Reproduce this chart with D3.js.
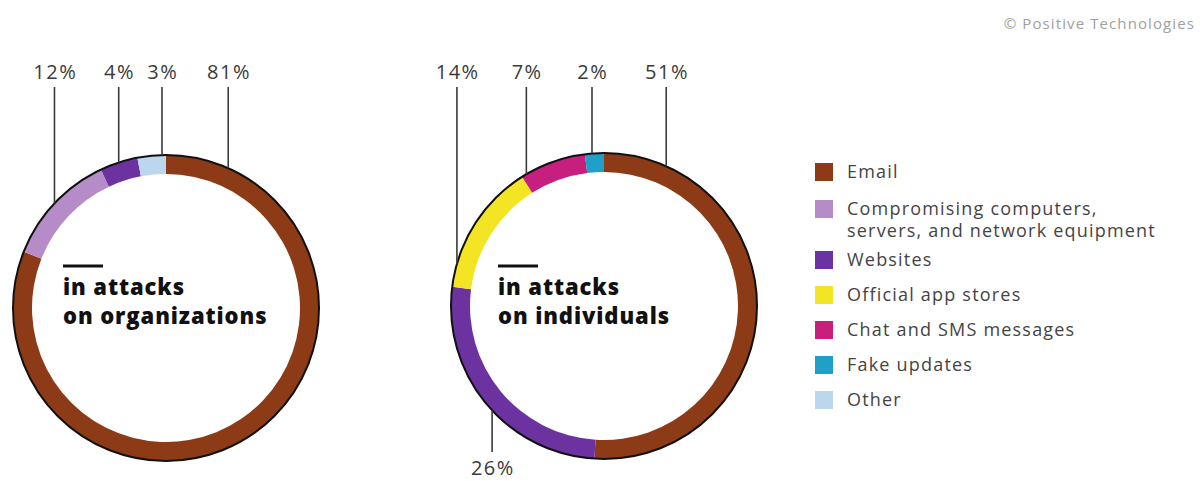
<!DOCTYPE html>
<html>
<head>
<meta charset="utf-8">
<script src="https://cdn.jsdelivr.net/npm/d3@7"></script>
<style>
  html, body { margin: 0; padding: 0; background: #fff; }
  svg { display: block; }
</style>
</head>
<body>
<svg id="chart" width="1200" height="481"></svg>
<script>
// ---------- DATA ----------
const categories = [
  "Email",
  "Compromising computers, servers, and network equipment",
  "Websites",
  "Official app stores",
  "Chat and SMS messages",
  "Fake updates",
  "Other"
];
const legendLines = [
  ["Email"],
  ["Compromising computers,", "servers, and network equipment"],
  ["Websites"],
  ["Official app stores"],
  ["Chat and SMS messages"],
  ["Fake updates"],
  ["Other"]
];
const organizationValues = [81, 12, 4, 0, 0, 0, 3];
const individualValues   = [51, 0, 26, 14, 7, 2, 0];
const chartTitles = [["in attacks", "on organizations"], ["in attacks", "on individuals"]];
const sourceText = "© Positive Technologies";

// ---------- STYLE / LAYOUT ----------
const colors = ["#8c3b16", "#b58bc8", "#6c33a0", "#f3e523", "#c61f7e", "#1ea0c8", "#bcd6ee"];
// angle (degrees, clockwise from top) where each label's leader line meets the ring
const orgLabelAngles = [24, 313.2, 342, null, null, null, 358.5];
const indLabelAngles = [24, null, 227, 286, 329.5, 355.5, null];

const svg = d3.select("#chart");
const R = 153, r = 134;
const donuts = [
  { cx: 166, cy: 308, values: organizationValues, angles: orgLabelAngles, title: chartTitles[0], tx: 63 },
  { cx: 604, cy: 306, values: individualValues, angles: indLabelAngles, title: chartTitles[1], tx: 498 }
];

const pie = d3.pie().sort(null).value(d => d).startAngle(0).endAngle(2 * Math.PI);
const arc = d3.arc().innerRadius(r).outerRadius(R);
const font = "'Open Sans', 'DejaVu Sans', sans-serif";

donuts.forEach(dn => {
  const g = svg.append("g").attr("transform", `translate(${dn.cx},${dn.cy})`);
  const arcs = pie(dn.values);
  g.selectAll("path.seg")
    .data(arcs)
    .join("path")
    .attr("class", "seg")
    .attr("d", arc)
    .attr("fill", (d, i) => colors[i]);
  // outer black rim
  g.append("circle").attr("r", R).attr("fill", "none").attr("stroke", "#111").attr("stroke-width", 2);

  // labels
  dn.values.forEach((v, i) => {
    const ang = dn.angles[i];
    if (!v || ang === null) return;
    const a = ang * Math.PI / 180;
    const x = R * Math.sin(a), y = -R * Math.cos(a);
    const top = y < 0;
    const yEnd = top ? 87 - dn.cy : 452 - dn.cy;
    g.append("line")
      .attr("x1", x).attr("x2", x)
      .attr("y1", y).attr("y2", yEnd)
      .attr("stroke", "#3a3a3a").attr("stroke-width", 1.6);
    g.append("text")
      .attr("x", x + 0.75)
      .attr("y", top ? 79 - dn.cy : 475 - dn.cy)
      .attr("text-anchor", "middle")
      .attr("font-family", font)
      .attr("font-size", 20)
      .attr("letter-spacing", 1.5)
      .attr("fill", "#3a3a3a")
      .text(v + "%");
  });

  // center title
  svg.append("rect").attr("x", dn.tx).attr("y", 264.5).attr("width", 40).attr("height", 3).attr("fill", "#111");
  dn.title.forEach((t, k) => {
    svg.append("text")
      .attr("x", dn.tx)
      .attr("y", 295 + k * 29)
      .attr("font-family", font)
      .attr("font-weight", 800)
      .attr("font-size", 22)
      .attr("letter-spacing", 0.9)
      .attr("fill", "#111")
      .text(t);
  });
});

// legend
const lg = svg.append("g");
let ly = 172;
legendLines.forEach((lines, i) => {
  lg.append("rect")
    .attr("x", 815).attr("y", ly - 9)
    .attr("width", 18).attr("height", 18)
    .attr("fill", colors[i]);
  lines.forEach((t, k) => {
    lg.append("text")
      .attr("x", 847).attr("y", ly + k * 22)
      .attr("dy", "0.35em")
      .attr("font-family", font)
      .attr("font-size", 18)
      .attr("letter-spacing", 1.2)
      .attr("fill", "#444")
      .text(t);
  });
  ly += (i === 0 ? 37 : i === 1 ? 51 : 35);
});

// source
svg.append("text")
  .attr("x", 1195).attr("y", 24)
  .attr("dy", "0.35em")
  .attr("text-anchor", "end")
  .attr("font-family", font)
  .attr("font-size", 15)
  .attr("letter-spacing", 1.1)
  .attr("fill", "#a0a0a0")
  .text(sourceText);
</script>
</body>
</html>
